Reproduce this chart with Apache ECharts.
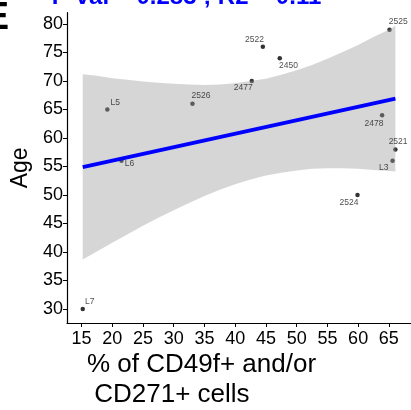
<!DOCTYPE html>
<html>
<head>
<meta charset="utf-8">
<script src="https://cdn.jsdelivr.net/npm/echarts@6/dist/echarts.min.js"></script>
<style>html,body{margin:0;padding:0;background:#fff;}#c{width:411px;height:410px;}</style>
</head>
<body>
<div id="c"></div>
<script>
const sampleIds = ['L7','L5','L6','2526','2477','2522','2450','2525','2478','2521','L3','2524'];
const pctCells  = [15.2, 19.2, 21.5, 33.05, 42.7, 44.5, 47.25, 65.1, 63.9, 66.06, 65.6, 59.9];
const ages      = [30, 65, 56, 66, 70, 76, 74, 79, 64, 58, 56, 50];
const fitX = [15.2, 66.06];
const fitY = [54.9, 66.9];
const bandX     = [15.2, 17.5, 20, 22.5, 25, 27.5, 30, 32.5, 35, 37.5, 40, 42.5, 45, 47.5, 50, 52.5, 55, 57.5, 60, 62.5, 65, 66.06];
const bandLower = [38.7, 40.1, 41.6, 43.1, 44.6, 46.0, 47.3, 48.6, 49.8, 50.9, 51.9, 52.7, 53.4, 53.9, 54.3, 54.6, 54.7, 54.7, 54.6, 54.4, 54.2, 54.1];
const bandUpper = [71.2, 70.9, 70.5, 70.2, 69.9, 69.7, 69.5, 69.4, 69.3, 69.4, 69.6, 70.0, 70.4, 71.1, 71.9, 72.8, 73.9, 75.1, 76.3, 77.7, 79.0, 79.7];
const xTicks = [15, 20, 25, 30, 35, 40, 45, 50, 55, 60, 65];
const yTicks = [30, 35, 40, 45, 50, 55, 60, 65, 70, 75, 80];
const titleText = 'P-val = 0.283 ; R2 = 0.11';
const xTitle = '% of CD49f+ and/or\n CD271+ cells';
const yTitle = 'Age';
const panelTag = 'E';

// label placement (style only)
const labelOffsets = [[7,-7],[8,-7],[8,2.5],[8.5,-7.7],[-8.5,7],[-8.3,-7.2],[8.7,7.5],[8.7,-7.8],[-8.2,8],[2.7,-7.8],[-8.8,7],[-8.5,7.8]];

const FONT = 'Liberation Sans, Arial, sans-serif';
const chart = echarts.init(document.getElementById('c'), null, {renderer: 'canvas'});

const pts = pctCells.map((x, i) => [x, ages[i]]);
const labelPts = pctCells.map((x, i) => ({
  value: [x, ages[i]],
  name: sampleIds[i],
  label: {offset: labelOffsets[i]}
}));

const option = {
  animation: false,
  backgroundColor: '#fff',
  grid: {left: 67, top: 12.7, width: 348, height: 310.3, containLabel: false},
  xAxis: {
    type: 'value', min: 12.64, max: 68.6,
    splitLine: {show: false},
    axisLine: {show: true, onZero: false, lineStyle: {color: '#000', width: 1.2}},
    axisTick: {show: true, length: 4, lineStyle: {color: '#000', width: 1}, customValues: xTicks},
    axisLabel: {customValues: xTicks, color: '#000', fontSize: 18, fontFamily: FONT, margin: 7}
  },
  yAxis: {
    type: 'value', min: 27.54, max: 81.98,
    name: yTitle, nameLocation: 'middle', nameGap: 34,
    nameTextStyle: {color: '#000', fontSize: 23, fontFamily: FONT},
    splitLine: {show: false},
    axisLine: {show: true, onZero: false, lineStyle: {color: '#000', width: 1.2}},
    axisTick: {show: true, length: 4, lineStyle: {color: '#000', width: 1}, customValues: yTicks},
    axisLabel: {customValues: yTicks, color: '#000', fontSize: 18, fontFamily: FONT, margin: 4}
  },
  graphic: [
    {type: 'text', x: 186.5, y: -3, silent: true,
     style: {text: titleText, fill: '#0000ff', font: 'bold 24px ' + FONT, textAlign: 'center', textVerticalAlign: 'middle'}},
    {type: 'text', x: 9, y: 18.5, silent: true,
     style: {text: panelTag, fill: '#000', font: 'bold 38px ' + FONT, textAlign: 'right', textVerticalAlign: 'middle'}},
    {type: 'text', x: 87, y: 350, silent: true,
     style: {text: xTitle, fill: '#000', font: '26px ' + FONT, textAlign: 'left', textVerticalAlign: 'top', lineHeight: 30}}
  ],
  series: [
    {
      type: 'scatter', z: 1, data: pts, symbol: 'circle', symbolSize: 4.5,
      itemStyle: {color: '#000'}, silent: true
    },
    {
      type: 'custom', z: 2, silent: true,
      data: bandX.map((x, i) => [x, bandLower[i], bandUpper[i]]),
      renderItem: function (params, api) {
        if (params.dataIndex !== 0) return null;
        const poly = [];
        for (let i = 0; i < bandX.length; i++) poly.push(api.coord([bandX[i], bandUpper[i]]));
        for (let i = bandX.length - 1; i >= 0; i--) poly.push(api.coord([bandX[i], bandLower[i]]));
        return {type: 'polygon', shape: {points: poly}, style: {fill: 'rgba(153,153,153,0.4)'}};
      },
      encode: {x: 0, y: [1, 2]}
    },
    {
      type: 'line', z: 3, data: fitX.map((x, i) => [x, fitY[i]]),
      symbol: 'none', lineStyle: {color: '#0000ff', width: 3.8}, silent: true
    },
    {
      type: 'scatter', z: 4, data: labelPts, symbolSize: 0, silent: true,
      label: {show: true, position: 'inside', formatter: '{b}', color: '#222', fontSize: 8.5, fontFamily: FONT}
    }
  ]
};
chart.setOption(option);
</script>
</body>
</html>
